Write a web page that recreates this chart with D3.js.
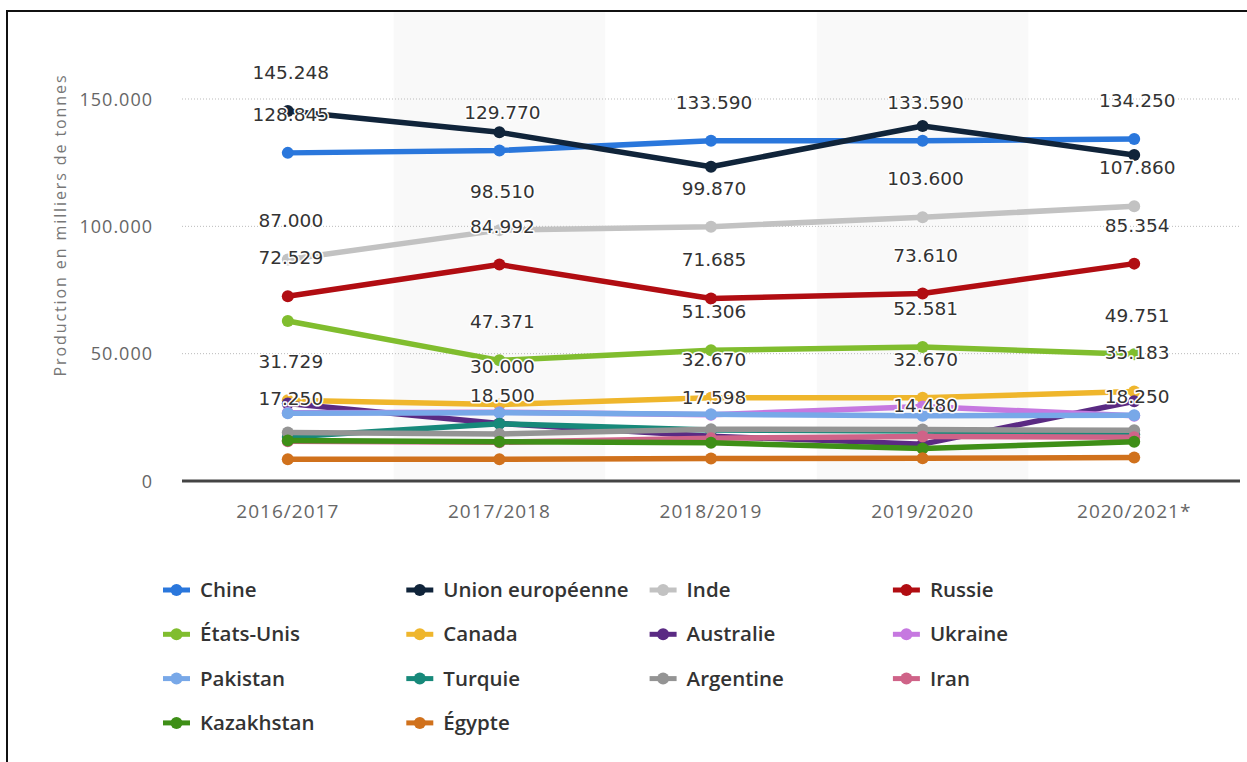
<!DOCTYPE html>
<html><head><meta charset="utf-8">
<script src="https://cdn.jsdelivr.net/npm/d3@7"></script>
<style>
html,body{margin:0;padding:0;background:#fff;}
svg{display:block;}
</style></head><body>
<svg id="chart" width="1247" height="762"></svg>
<script>
// Wheat production by country, thousands of tonnes
const periods = ["2016/2017", "2017/2018", "2018/2019", "2019/2020", "2020/2021*"];
const countries = ["Chine", "Union européenne", "Inde", "Russie", "États-Unis", "Canada", "Australie",
  "Ukraine", "Pakistan", "Turquie", "Argentine", "Iran", "Kazakhstan", "Égypte"];
const colors = ["#2a77dc", "#10243a", "#c2c2c2", "#b10d12", "#80bd2e", "#efb62c", "#5a2a83",
  "#c678e0", "#78a8e8", "#17897a", "#949494", "#cf6388", "#3e8f17", "#d0711c"];

const chine = [128845, 129770, 133590, 133590, 134250];
const unionEuropeenne = [145248, 136900, 123400, 139400, 128000];
const inde = [87000, 98510, 99870, 103600, 107860];
const russie = [72529, 84992, 71685, 73610, 85354];
const etatsUnis = [62830, 47371, 51306, 52581, 49751];
const canada = [31729, 30000, 32670, 32670, 35183];
const australie = [30400, 22600, 17598, 14480, 31300];
const ukraine = [26800, 27000, 26000, 29300, 25600];
const pakistan = [26600, 26800, 26200, 25600, 25800];
const turquie = [17250, 22500, 20000, 19600, 18250];
const argentine = [19000, 18500, 20300, 20200, 19900];
const iran = [15600, 15200, 16800, 17500, 17200];
const kazakhstan = [15900, 15400, 15000, 12800, 15400];
const egypte = [8500, 8500, 8800, 8900, 9200];

const yTicks = [0, 50000, 100000, 150000];
const yTitle = "Production en milliers de tonnes";

// value labels that are displayed: [country index, period index]
const labelled = [
  [0,0],[0,1],[0,2],[0,3],[0,4],
  [1,0],
  [2,0],[2,1],[2,2],[2,3],[2,4],
  [3,0],[3,1],[3,2],[3,3],[3,4],
  [4,1],[4,2],[4,3],[4,4],
  [5,0],[5,1],[5,2],[5,3],[5,4],
  [9,0],[10,1],[6,2],[6,3],[9,4]
];

const values = [chine, unionEuropeenne, inde, russie, etatsUnis, canada, australie,
  ukraine, pakistan, turquie, argentine, iran, kazakhstan, egypte];
const series = countries.map((name, i) => ({name, color: colors[i],
  points: values[i].map((v, j) => ({period: periods[j], value: v}))}));

const fr = d3.formatLocale({decimal: ",", thousands: ".", grouping: [3], currency: ["", " €"]});
const fmt = fr.format(",d");

const svg = d3.select("#chart");
const left = 182, right = 1240, bottom = 481;

const x = d3.scaleBand().domain(periods).range([left, right]);
const y = d3.scaleLinear().domain([0, 150000]).range([bottom, 99]);

// alternating column bands
svg.append("g").selectAll("rect")
  .data(periods.filter((d, i) => i % 2 === 1))
  .join("rect")
  .attr("x", d => x(d)).attr("y", 12)
  .attr("width", x.bandwidth()).attr("height", bottom - 12)
  .attr("fill", "#f9f9f9");

// horizontal grid
svg.append("g").selectAll("line")
  .data(yTicks.filter(t => t > 0))
  .join("line")
  .attr("x1", left).attr("x2", right)
  .attr("y1", d => y(d)).attr("y2", d => y(d))
  .attr("stroke", "#bbb").attr("stroke-width", 1)
  .attr("stroke-dasharray", "1,2");

// y axis labels
const yAxis = svg.append("g").attr("transform", `translate(${left - 26},0)`)
  .call(d3.axisLeft(y).tickValues(yTicks).tickFormat(d => fmt(d)).tickSize(0));
yAxis.select(".domain").remove();
yAxis.selectAll("text")
  .attr("font-family", "Open Sans").attr("font-size", 18).attr("fill", "#666")
  .attr("letter-spacing", "1")
  .attr("dy", "0.35em");

svg.append("text")
  .attr("transform", `translate(66,225) rotate(-90)`)
  .attr("text-anchor", "middle")
  .attr("font-family", "Open Sans").attr("font-size", 16).attr("fill", "#777")
  .attr("letter-spacing", "1.9")
  .text(yTitle);

// x axis
const xAxis = svg.append("g").attr("transform", `translate(0,${bottom})`)
  .call(d3.axisBottom(x).tickSize(0).tickPadding(24));
xAxis.select(".domain").attr("stroke", "#444").attr("stroke-width", 3)
  .attr("d", `M${left},0H${right}`);
xAxis.selectAll("text")
  .attr("font-family", "Open Sans").attr("font-size", 19).attr("fill", "#666")
  .attr("letter-spacing", "1")
  .attr("dy", "0.7em");

// lines and markers
const line = d3.line().x(d => x(d.period) + x.bandwidth() / 2).y(d => y(d.value));
const gs = svg.append("g").selectAll("g").data(series).join("g");
gs.append("path")
  .attr("d", d => line(d.points))
  .attr("fill", "none").attr("stroke", d => d.color)
  .attr("stroke-width", 5.5).attr("stroke-linejoin", "round").attr("stroke-linecap", "round");
gs.selectAll("circle").data(d => d.points.map(p => ({...p, color: d.color})))
  .join("circle")
  .attr("cx", d => x(d.period) + x.bandwidth() / 2)
  .attr("cy", d => y(d.value))
  .attr("r", 6).attr("fill", d => d.color);

// value labels
svg.append("g").selectAll("text")
  .data(labelled.map(([s, p]) => series[s].points[p]))
  .join("text")
  .attr("x", d => x(d.period) + x.bandwidth() / 2 + 3)
  .attr("y", d => y(d.value) - 32)
  .attr("text-anchor", "middle")
  .attr("font-family", "DejaVu Sans").attr("font-size", 18.5).attr("fill", "#333")
  .attr("stroke", "#fff").attr("stroke-width", 3).attr("stroke-linejoin", "round")
  .attr("paint-order", "stroke")
  .text(d => fmt(d.value));

// legend
const legend = svg.append("g").selectAll("g").data(series).join("g")
  .attr("transform", (d, i) => `translate(${163 + (i % 4) * 243.3},${590 + Math.floor(i / 4) * 44.3})`);
legend.append("line").attr("x1", 0).attr("x2", 27).attr("y1", 0).attr("y2", 0)
  .attr("stroke", d => d.color).attr("stroke-width", 5);
legend.append("circle").attr("cx", 13.5).attr("cy", 0).attr("r", 6).attr("fill", d => d.color);
legend.append("text").attr("x", 37).attr("y", 0).attr("dy", "0.35em")
  .attr("font-family", "Open Sans").attr("font-weight", 600).attr("font-size", 20.5)
  .attr("fill", "#333")
  .text(d => d.name);

// outer frame
svg.append("path").attr("d", "M7,770V11H1250")
  .attr("fill", "none").attr("stroke", "#111").attr("stroke-width", 2);
</script>
</body></html>
